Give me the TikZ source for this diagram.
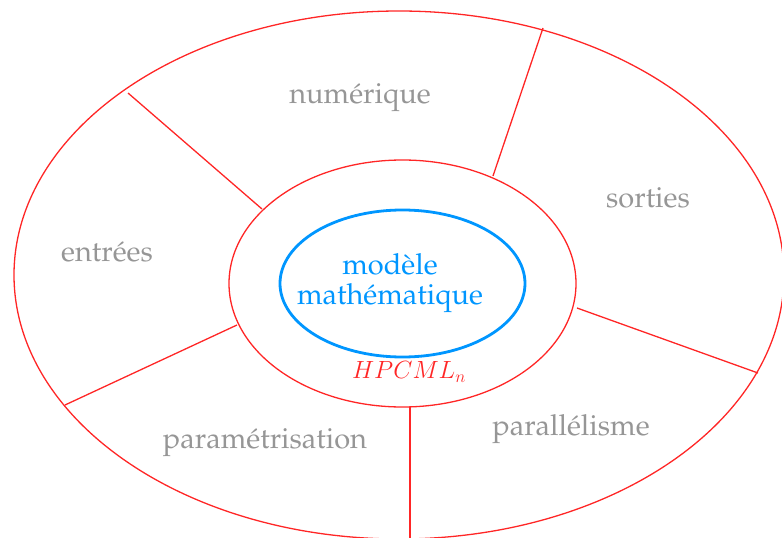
\documentclass[tikz,border=0pt]{standalone}
\usepackage[T1]{fontenc}
\usepackage{palatino}
\definecolor{ringred}{rgb}{1,0.15,0.15}
\definecolor{coreblue}{RGB}{0,150,255}
\definecolor{labgray}{RGB}{150,150,150}
\begin{document}
\begin{tikzpicture}[x=1pt,y=-1pt,
  ring/.style={draw=ringred,line width=1.3pt},
  spoke/.style={draw=ringred,line width=1.3pt},
  lab/.style={text=labgray,font=\fontsize{29}{30}\selectfont,inner sep=0pt},
  core/.style={text=coreblue,font=\fontsize{29}{30}\selectfont,align=center,inner sep=0pt}]
\useasboundingbox (0,0) rectangle (782,538);
\clip (0,0) rectangle (782,538);
% ellipses
\draw[ring] (399,275) ellipse [x radius=385, y radius=264];
\draw[ring] (402.5,283.5) ellipse [x radius=173.5, y radius=123.5];
\draw[draw=coreblue,line width=2.8pt] (402.5,283.5) ellipse [x radius=122.5, y radius=73.5];
% spoke endpoints
\coordinate (i1) at (262,209); \coordinate (o1) at (128,93);
\coordinate (i2) at (493,176); \coordinate (o2) at (543,28);
\coordinate (i3) at (577,308); \coordinate (o3) at (758,373);
\coordinate (i4) at (410,407); \coordinate (o4) at (410,545);
\coordinate (i5) at (237,325); \coordinate (o5) at (65,405);
\draw[spoke] (i1) -- (o1);
\draw[spoke] (i2) -- (o2);
\draw[spoke] (i3) -- (o3);
\draw[spoke] (i4) -- (o4);
\draw[spoke] (i5) -- (o5);
% labels
\node[lab] (num) at (360,98) {numérique};
\node[lab] (sor) at (648,198) {sorties};
\node[lab] (ent) at (107,252) {entrées};
\node[lab] (par) at (265,443) {paramétrisation};
\node[lab] (pal) at (571,429) {parallélisme};
\node[core] (mod) at (390,283) {modèle\\mathématique};
\node[text=ringred,font=\fontsize{24}{26}\selectfont,inner sep=0pt] (hp) at (409,372) {$HPCML_n$};
\end{tikzpicture}
\end{document}
